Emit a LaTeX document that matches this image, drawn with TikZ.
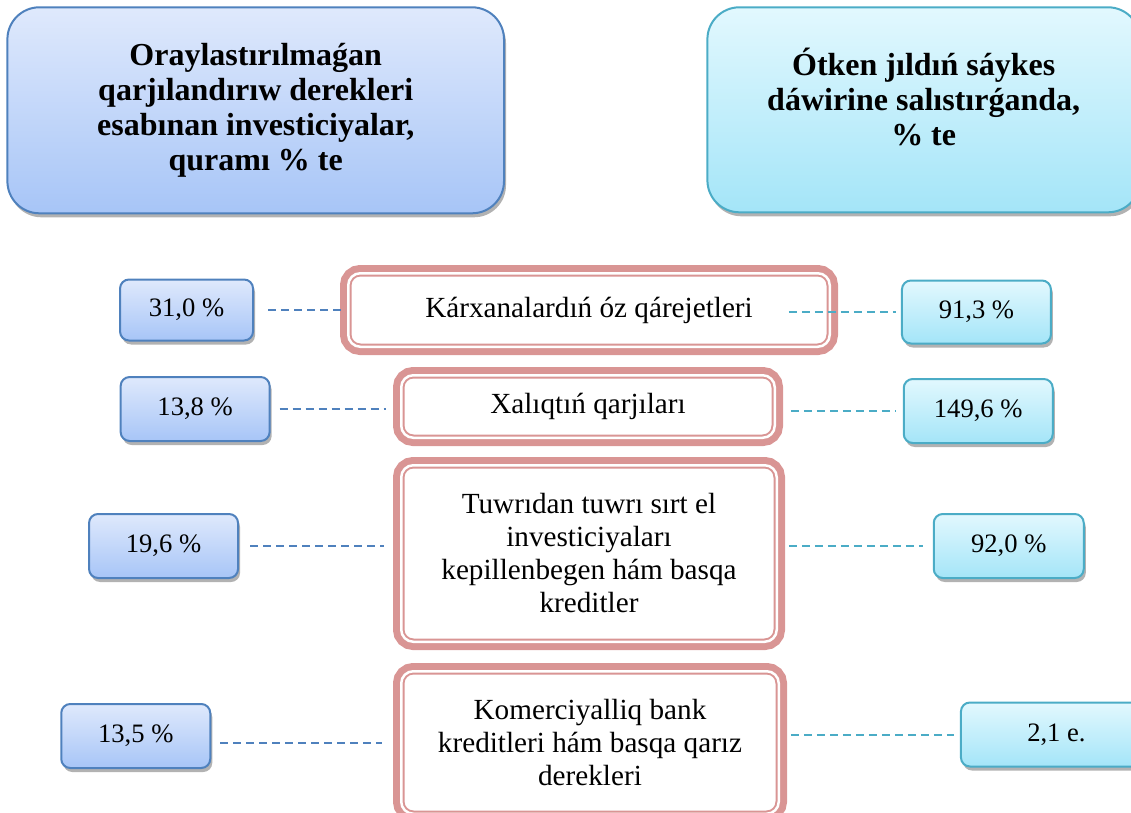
\documentclass[tikz,border=0pt]{standalone}
\usepackage{fontspec}
\setmainfont{Liberation Serif}
\usepackage{tikz}
\usetikzlibrary{positioning,shadows}
\definecolor{hdrblue}{RGB}{79,129,189}
\definecolor{hdrbluetop}{RGB}{223,233,252}
\definecolor{hdrbluebot}{RGB}{167,197,247}
\definecolor{hdrteal}{RGB}{75,172,198}
\definecolor{hdrtealtop}{RGB}{226,248,254}
\definecolor{hdrtealbot}{RGB}{164,229,248}
\definecolor{srcpink}{RGB}{217,149,148}
\tikzset{
    softshadow/.style={drop shadow={shadow xshift=1pt, shadow yshift=-2pt,
                       opacity=0.3, fill=black}},
    hdrleft/.style={rectangle, draw=hdrblue, line width=1pt, top color=hdrbluetop,
                    bottom color=hdrbluebot, rounded corners=16pt, align=center,
                    font=\fontsize{16}{17.5}\selectfont\bfseries, softshadow},
    hdrright/.style={hdrleft, draw=hdrteal, top color=hdrtealtop, bottom color=hdrtealbot},
    valleft/.style={rectangle, draw=hdrblue, line width=1pt, top color=hdrbluetop,
                    bottom color=hdrbluebot, rounded corners=4.5pt, minimum width=74.5pt,
                    minimum height=32pt, font=\fontsize{13.3}{15}\selectfont, softshadow},
    valright/.style={valleft, draw=hdrteal, top color=hdrtealtop, bottom color=hdrtealbot},
    srcblock/.style={rectangle, rounded corners=6pt, preaction={draw=srcpink, line width=8.25pt},
                     fill=white, draw=srcpink, double=white, double distance=1.25pt, line width=1pt,
                     align=center, font=\fontsize{14.6}{16.5}\selectfont},
    dashL/.style={draw=hdrblue, line width=1pt, dash pattern=on 4pt off 2.5pt},
    dashR/.style={dashL, draw=hdrteal},
}

\begin{document}
\begin{tikzpicture}[x=0.5pt, y=-0.5pt]
        \useasboundingbox (0,0) rectangle (1131,813);

        % Headers
        \node [hdrleft, minimum width=248.3pt, minimum height=103pt] (hdrL) at (255.7,110.3)
              {Oraylastırılmaǵan\\qarjılandırıw derekleri\\esabınan investiciyalar,\\quramı \% te};
        \node [hdrright, minimum width=216.3pt, minimum height=102.5pt] (hdrR) at (923.7,109.8)
              {Ótken jıldıń sáykes\\dáwirine salıstırǵanda,\\\% te\\[-4.5pt]\mbox{}};

        % Sources of financing
        \node [srcblock, minimum width=240.75pt, minimum height=36.75pt] (c1) at (589,310)
              {Kárxanalardıń óz qárejetleri};
        \node [srcblock, minimum width=186.75pt, minimum height=31.25pt] (c2) at (588,406.5)
              {Xalıqtıń qarjıları};
        \node [srcblock, minimum width=187.75pt, minimum height=88.25pt] (c3) at (589,553.5)
              {Tuwrıdan tuwrı sırt el\\investiciyaları\\kepillenbegen hám basqa\\kreditler};
        \node [srcblock, minimum width=188.75pt, minimum height=71.25pt] (c4) at (590,742.5)
              {Komerciyalliq bank\\kreditleri hám basqa qarız\\derekleri};

        % Shares
        \node [valleft, minimum width=66.5pt, minimum height=30.5pt, left=46.6pt of c1] (l1) {31,0 \%};
        \node [valleft, left=64.8pt of c2, yshift=-1.25pt] (l2) {13,8 \%};
        \node [valleft, left=80.6pt of c3, yshift=3.75pt]  (l3) {19,6 \%};
        \node [valleft, left=94.5pt of c4, yshift=3.25pt]  (l4) {13,5 \%};

        % Growth rates
        \node [valright, minimum height=31.5pt, right=35.1pt of c1, yshift=-1pt] (r1) {91,3 \%};
        \node [valright, right=63.5pt of c2, yshift=-2.25pt] (r2) {149,6 \%};
        \node [valright, minimum width=75pt, right=77.5pt of c3, yshift=3.75pt] (r3) {92,0 \%};
        \node [valright, minimum width=95.5pt, right=90.1pt of c4, yshift=4pt] (r4) {2,1 e.};

        % Dashed links
        \draw [dashL, shorten <=7pt, shorten >=1.6pt] (l1.east) -- (l1.east -| c1.west);
        \draw [dashL, shorten <=4.5pt, shorten >=7.3pt] (l2.east) -- (l2.east -| c2.west);
        \draw [dashL, shorten <=5.5pt, shorten >=8pt] (l3.east) -- (l3.east -| c3.west);
        \draw [dashL, shorten <=4.5pt, shorten >=9pt] (c4.west -| l4.east) -- (c4.west);
        \draw [dashR, shorten <=-20.9pt, shorten >=2.5pt] (r1.west -| c1.east) -- (r1.west);
        \draw [dashR, shorten <=7.5pt, shorten >=3.5pt] (r2.west -| c2.east) -- (r2.west);
        \draw [dashR, shorten <=5.5pt, shorten >=5pt] (r3.west -| c3.east) -- (r3.west);
        \draw [dashR, shorten <=5.5pt, shorten >=3pt] (r4.west -| c4.east) -- (r4.west);
\end{tikzpicture}
\end{document}
